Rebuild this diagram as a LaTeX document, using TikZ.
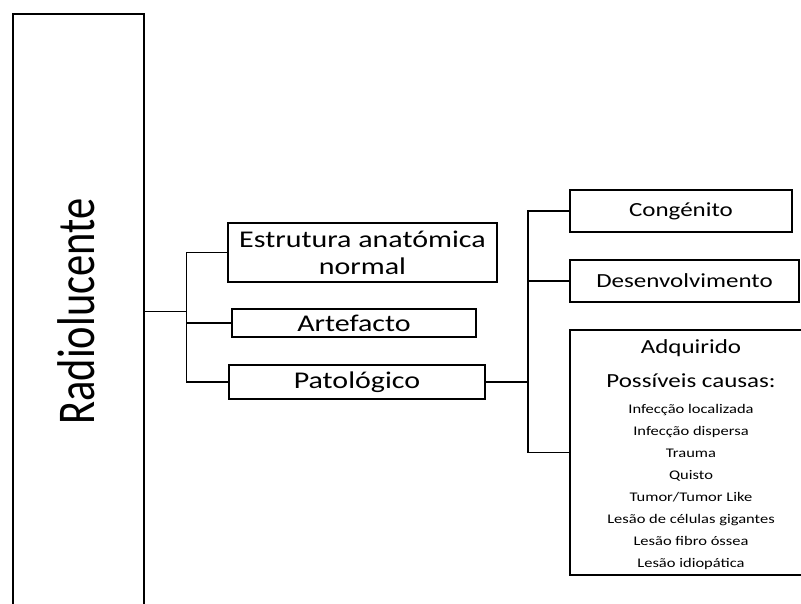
\documentclass[tikz,border=0pt]{standalone}
\usepackage{fontspec}
\setmainfont{Carlito}[FakeStretch=1.25]
\newfontfamily\plainfont{Carlito}
\begin{document}
\begin{tikzpicture}[x=1pt,y=-1pt,
  lw/.style={line width=1.7pt},
  box/.style={draw,lw,rectangle,inner sep=0pt,align=center},
  big/.style={font=\fontsize{24}{27}\selectfont},
  mid/.style={font=\fontsize{20}{24}\selectfont},
  small/.style={font=\fontsize{13.2}{16}\selectfont},
  conn/.style={lw}]
\useasboundingbox (0,0) rectangle (801,603);
\clip (0,0) rectangle (801,603);
% main box
\node[box,minimum width=131pt,minimum height=595pt] (rad) at (78.5,311.5) {};
\node[rotate=90,inner sep=0pt] (radtxt) at (76,311.5)
  {\scalebox{1}[1.25]{\plainfont\fontsize{42.5}{48}\selectfont Radiolucente}};
% first level
\node[box,big,minimum width=269pt,minimum height=59pt] (est) at (362.5,252.5) {Estrutura anatómica\\normal};
\node[box,big,minimum width=244pt,minimum height=28pt] (art) at (354,323) {Artefacto};
\node[box,big,minimum width=256pt,minimum height=34pt] (pat) at (357,382) {Patológico};
% second level
\node[box,mid,minimum width=222pt,minimum height=42pt] (con) at (681,211) {Congénito};
\node[box,mid,minimum width=229pt,minimum height=42pt] (des) at (684.5,281) {Desenvolvimento};
\node[box,minimum width=242pt,minimum height=245pt] (adq) at (691,452.5) {};
\node[mid,anchor=base,inner sep=0pt] (adqt) at (691,353) {Adquirido};
\node[mid,anchor=base,inner sep=0pt] (pc) at (691,387) {Possíveis causas:};
\node[small,anchor=base,inner sep=0pt] (c1) at (691,413) {Infecção localizada};
\node[small,anchor=base,inner sep=0pt] (c2) at (691,435) {Infecção dispersa};
\node[small,anchor=base,inner sep=0pt] (c3) at (691,457) {Trauma};
\node[small,anchor=base,inner sep=0pt] (c4) at (691,479) {Quisto};
\node[small,anchor=base,inner sep=0pt] (c5) at (691,501) {Tumor/Tumor Like};
\node[small,anchor=base,inner sep=0pt] (c6) at (691,523) {Lesão de células gigantes};
\node[small,anchor=base,inner sep=0pt] (c7) at (691,545) {Lesão fibro óssea};
\node[small,anchor=base,inner sep=0pt] (c8) at (691,567) {Lesão idiopática};
% connectors
\coordinate (t1) at (186.5,311.5);
\coordinate (t2) at (528,382);
\draw[conn] (rad.east) -- (t1);
\draw[conn] (est.west) -| (t1);
\draw[conn] (t1) |- (art.west);
\draw[conn] (t1) |- (pat.west);
\draw[conn] (pat.east) -- (t2);
\draw[conn] (con.west) -| (t2);
\draw[conn] (t2) |- (des.west);
\draw[conn] (t2) |- (adq.west);
\end{tikzpicture}
\end{document}
